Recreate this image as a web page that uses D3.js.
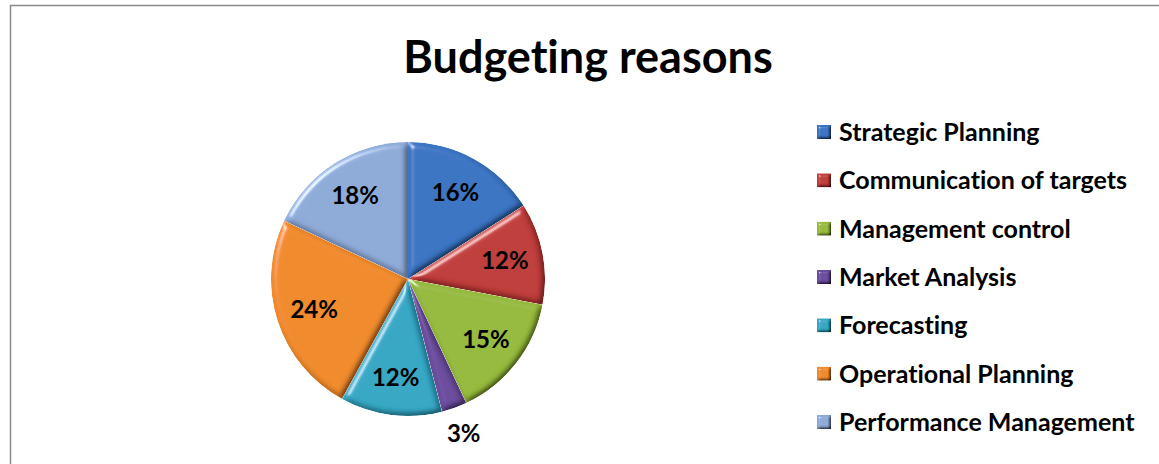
<!DOCTYPE html>
<html>
<head>
<meta charset="utf-8">
<script src="https://cdn.jsdelivr.net/npm/d3@7/dist/d3.min.js"></script>
<style>
  html, body { margin: 0; padding: 0; background: #fff; }
  svg { display: block; font-family: Lato, "Open Sans", "Liberation Sans", sans-serif; font-variant-ligatures: none; }
</style>
</head>
<body>
<svg id="chart" width="1159" height="464"></svg>
<script>
// Budgeting reasons, share of respondents (%)
const categories = [
  "Strategic Planning",
  "Communication of targets",
  "Management control",
  "Market Analysis",
  "Forecasting",
  "Operational Planning",
  "Performance Management"
];
const values = [16, 12, 15, 3, 12, 24, 18];
const colors = ["#3a74c2", "#c03c3a", "#95ba3c", "#6b4c9d", "#34a7c4", "#f08a2c", "#8eaad8"];
const title = "Budgeting reasons";

const width = 1159, height = 464;
const svg = d3.select("#chart");

// Bevel filter: soft lit rim from the upper left, darker rim on the far side
const defs = svg.append("defs");
function bevel(id, blur, scale) {
  const f = defs.append("filter").attr("id", id)
    .attr("x", "-10%").attr("y", "-10%").attr("width", "120%").attr("height", "120%");
  f.append("feGaussianBlur").attr("in", "SourceAlpha").attr("stdDeviation", blur).attr("result", "blur");
  const spec = f.append("feSpecularLighting").attr("in", "blur")
    .attr("surfaceScale", scale).attr("specularConstant", 0.7)
    .attr("specularExponent", 40).attr("lighting-color", "#ffffff").attr("result", "spec");
  spec.append("feDistantLight").attr("azimuth", 225).attr("elevation", 35);
  f.append("feComposite").attr("in", "spec").attr("in2", "SourceAlpha").attr("operator", "in").attr("result", "specIn");
  const diff = f.append("feDiffuseLighting").attr("in", "blur")
    .attr("surfaceScale", scale).attr("diffuseConstant", 1.22)
    .attr("lighting-color", "#ffffff").attr("result", "diff");
  diff.append("feDistantLight").attr("azimuth", 225).attr("elevation", 55);
  f.append("feComposite").attr("in", "SourceGraphic").attr("in2", "diff")
    .attr("operator", "arithmetic").attr("k1", 1).attr("k2", 0).attr("k3", 0).attr("k4", 0)
    .attr("result", "lit");
  f.append("feComposite").attr("in", "lit").attr("in2", "specIn")
    .attr("operator", "arithmetic").attr("k1", 0).attr("k2", 1).attr("k3", 0.8).attr("k4", 0)
    .attr("result", "out");
  f.append("feComposite").attr("in", "out").attr("in2", "SourceAlpha").attr("operator", "in");
}
bevel("bevel", 3, 4);
bevel("bevelSmall", 1.5, 3);

// Frame
svg.append("rect")
  .attr("x", 10.5).attr("y", 5.5).attr("width", 1170).attr("height", 480)
  .attr("fill", "none").attr("stroke", "#8a8a8a").attr("stroke-width", 1.5);

// Title
svg.append("text")
  .attr("x", 588).attr("y", 73)
  .attr("text-anchor", "middle")
  .attr("font-size", 45).attr("font-weight", "bold").attr("fill", "#000")
  .text(title);

// Pie
const cx = 408, cy = 279, r = 137;
const pie = d3.pie().sort(null).value(d => d.value);
const arcs = pie(categories.map((c, i) => ({ name: c, value: values[i], color: colors[i] })));
const arc = d3.arc().innerRadius(0).outerRadius(r);
const labelArc = d3.arc().innerRadius(r * 0.72).outerRadius(r * 0.72);
const outerLabelArc = d3.arc().innerRadius(r * 1.2).outerRadius(r * 1.2);

const g = svg.append("g").attr("transform", `translate(${cx},${cy})`);
g.selectAll("path.slice")
  .data(arcs)
  .join("path")
  .attr("class", "slice")
  .attr("d", arc)
  .attr("fill", d => d.data.color)
  .attr("filter", "url(#bevel)");

g.selectAll("text.label")
  .data(arcs)
  .join("text")
  .attr("class", "label")
  .attr("transform", d => {
    const p = d.data.value < 5 ? outerLabelArc.centroid(d) : labelArc.centroid(d);
    return `translate(${p[0]},${p[1]})`;
  })
  .attr("text-anchor", "middle")
  .attr("dy", "0.36em")
  .attr("font-size", 24).attr("font-weight", "bold").attr("fill", "#000")
  .text(d => d.data.value + "%");

// Legend
const legendY = d3.scalePoint().domain(categories).range([132, 422]);
const lg = svg.append("g");
const items = lg.selectAll("g.item")
  .data(arcs)
  .join("g")
  .attr("class", "item")
  .attr("transform", d => `translate(817,${legendY(d.data.name)})`);
items.append("rect")
  .attr("x", 0).attr("y", -7).attr("width", 14).attr("height", 14)
  .attr("fill", d => d.data.color)
  .attr("filter", "url(#bevelSmall)");
items.append("text")
  .attr("x", 22).attr("dy", "0.36em")
  .attr("font-size", 25).attr("font-weight", "bold").attr("fill", "#000")
  .text(d => d.data.name);
</script>
</body>
</html>
